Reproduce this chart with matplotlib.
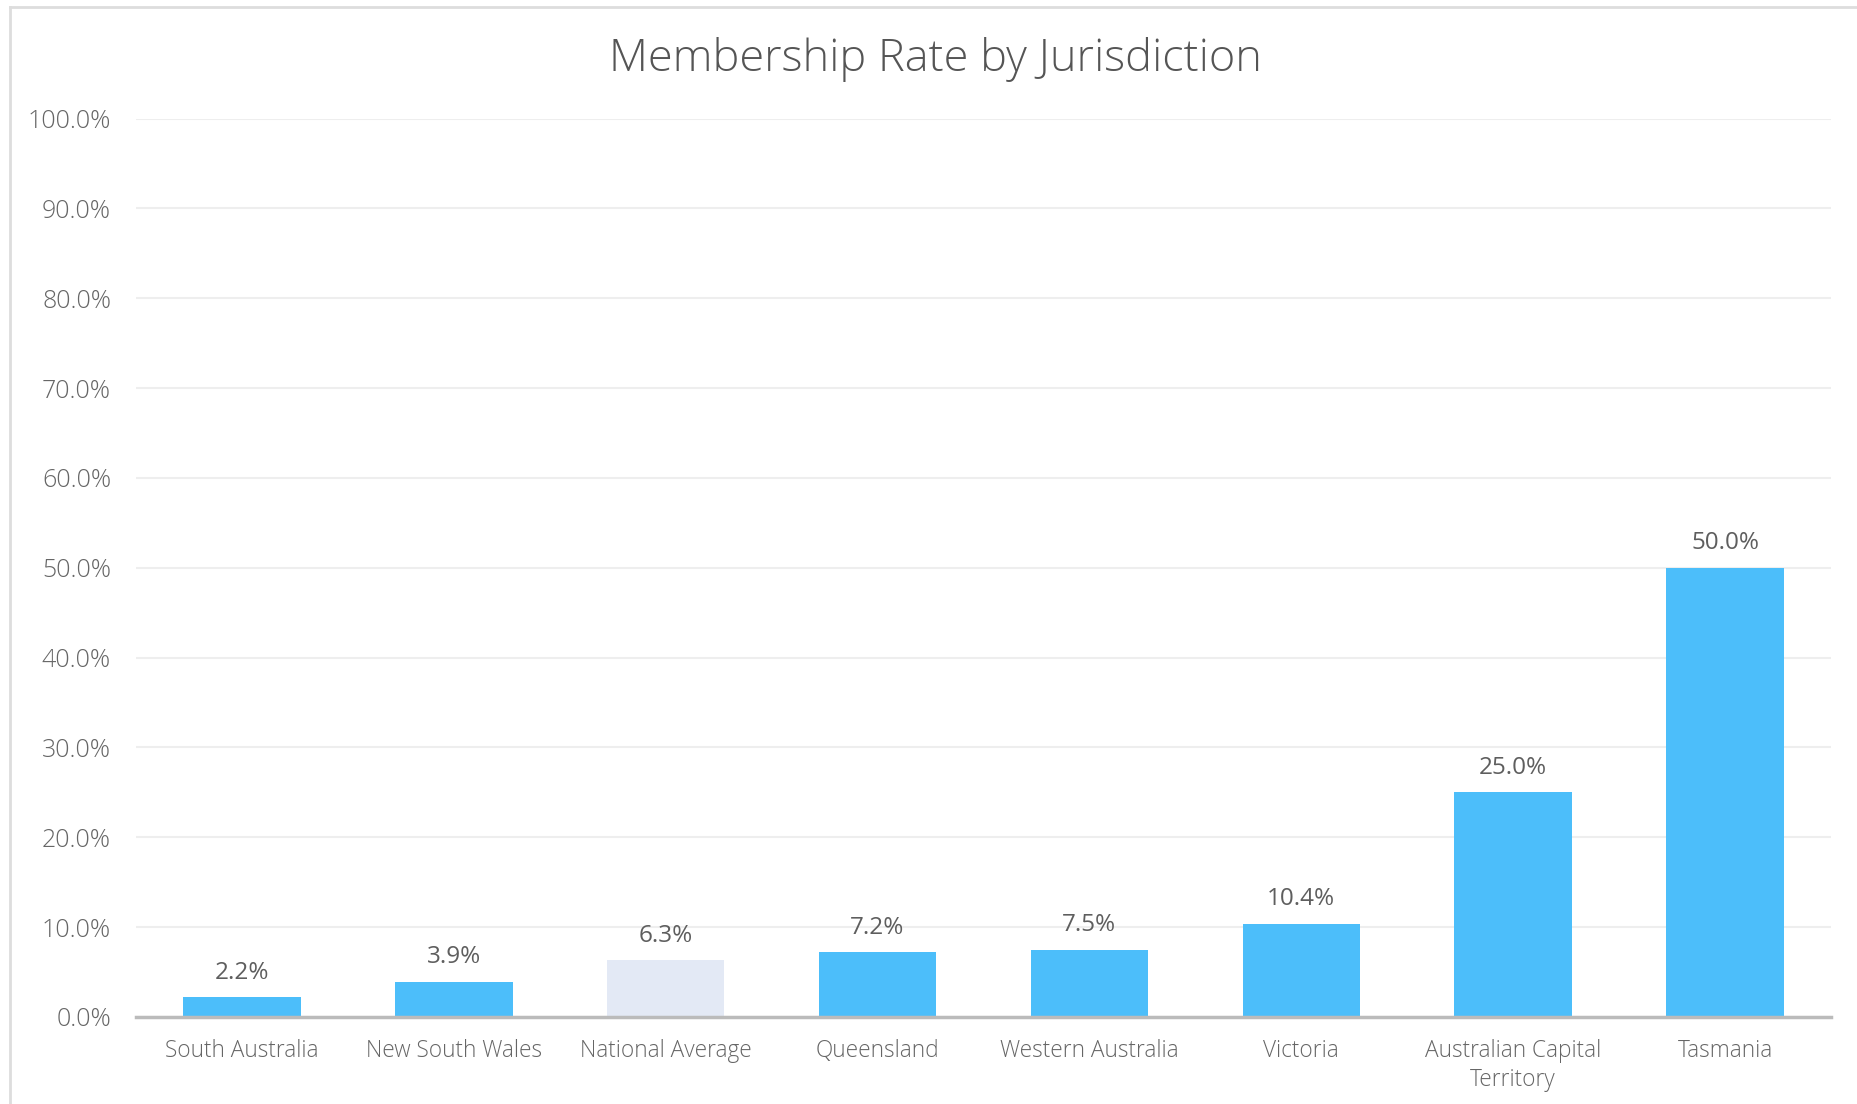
import matplotlib.pyplot as plt
import matplotlib.lines as mlines
from matplotlib.ticker import FuncFormatter, MultipleLocator

plt.rcParams['font.family'] = ['Open Sans', 'DejaVu Sans']

# data
jurisdictions = ['South Australia', 'New South Wales', 'National Average', 'Queensland',
                 'Western Australia', 'Victoria', 'Australian Capital\nTerritory', 'Tasmania']
rates = [2.2, 3.9, 6.3, 7.2, 7.5, 10.4, 25.0, 50.0]
highlight = 'National Average'

bar_blue = '#4cbefa'
avg_color = '#e3e9f5'

fig = plt.figure(figsize=(18.58, 11.04), dpi=100)
ax = fig.add_axes([136 / 1858, 1 - 1017 / 1104, (1831 - 136) / 1858, (1017 - 118.5) / 1104])

colors = [avg_color if j == highlight else bar_blue for j in jurisdictions]
x = range(len(jurisdictions))
bars = ax.bar(x, rates, width=0.555, color=colors, zorder=2)

for b, v in zip(bars, rates):
    ax.annotate(f'{v:.1f}%', (b.get_x() + b.get_width() / 2, v),
                xytext=(0, 9), textcoords='offset points',
                ha='center', va='bottom', fontsize=17.5, color='#5e5e5e')

ax.set_xlim(-0.5, len(jurisdictions) - 0.5)
ax.set_ylim(0, 100)
ax.yaxis.set_major_locator(MultipleLocator(10))
ax.yaxis.set_major_formatter(FuncFormatter(lambda v, p: f'{v:.1f}%'))
ax.set_xticks(list(x))
ax.set_xticklabels(jurisdictions, fontsize=16.3, color='#666666', linespacing=1.3,
                   fontweight='light')
for t in ax.get_yticklabels():
    t.set_fontweight('light')
ax.tick_params(axis='y', labelsize=18, labelcolor='#666666', length=0, pad=18)
ax.tick_params(axis='x', length=0, pad=15.5)
ax.grid(axis='y', color='#eeeeee', linewidth=1.5, zorder=0)
ax.set_axisbelow(True)
for s in ['top', 'right', 'left']:
    ax.spines[s].set_visible(False)
ax.spines['bottom'].set_color('#bbbbbb')
ax.spines['bottom'].set_linewidth(2.5)
ax.spines['bottom'].set_zorder(3)

fig.text(935 / 1858, 1 - 60 / 1104, 'Membership Rate by Jurisdiction',
         ha='center', va='center', fontsize=32.5, color='#555555', fontweight='light')

# outer frame (left and top edges only visible)
fig.add_artist(mlines.Line2D([10 / 1858, 10 / 1858], [0, 1 - 7 / 1104],
                             transform=fig.transFigure, color='#dddddd', linewidth=2))
fig.add_artist(mlines.Line2D([10 / 1858, 1], [1 - 7 / 1104, 1 - 7 / 1104],
                             transform=fig.transFigure, color='#dddddd', linewidth=2))

fig.savefig('out.png', dpi=100, facecolor='white')
